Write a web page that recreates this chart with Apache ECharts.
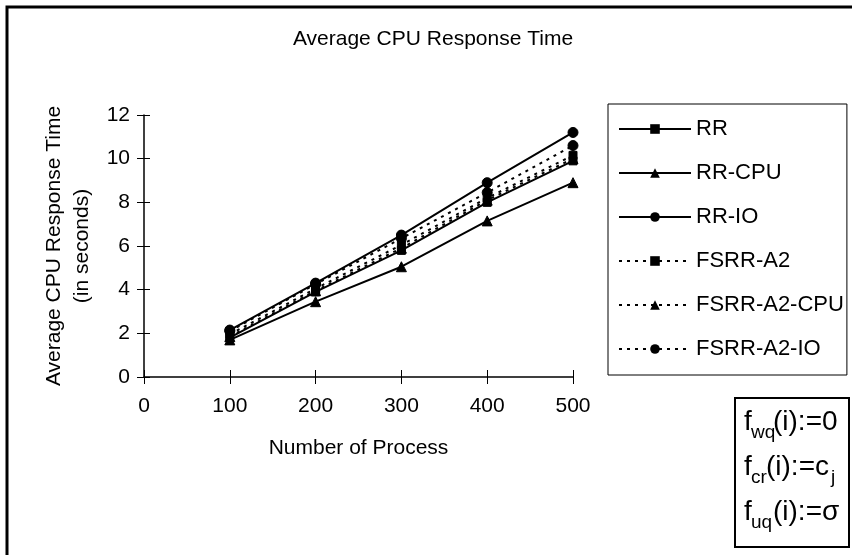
<!DOCTYPE html>
<html>
<head>
<meta charset="utf-8">
<script src="https://cdn.jsdelivr.net/npm/echarts@6/dist/echarts.min.js"></script>
<style>
  html, body { margin: 0; padding: 0; background: #fff; }
  #chart { width: 852px; height: 555px; }
</style>
</head>
<body>
<div id="chart"></div>
<script>
// Number of processes on the x axis
const processes = [100, 200, 300, 400, 500];

// Average CPU response time (seconds) per scheduler
const rr          = [1.8, 3.9, 5.8, 8.0, 9.9];
const rrCpu       = [1.7, 3.45, 5.05, 7.15, 8.9];
const rrIo        = [2.15, 4.3, 6.5, 8.9, 11.2];
const fsrrA2      = [1.95, 4.05, 6.05, 8.2, 10.15];
const fsrrA2Cpu   = [1.85, 3.95, 5.9, 8.1, 10.0];
const fsrrA2Io    = [2.1, 4.25, 6.35, 8.45, 10.6];

const yTicks = [0, 2, 4, 6, 8, 10, 12];
const xTicks = [0, 100, 200, 300, 400, 500];

const FONT = '"Liberation Sans", Arial, Helvetica, sans-serif';

function pairs(vals) {
  return processes.map((p, i) => [p, vals[i]]);
}

function makeSeries(name, vals, symbol, dashed) {
  return {
    name: name,
    type: 'line',
    data: pairs(vals),
    symbol: symbol,
    symbolSize: symbol === 'triangle' ? 10 : (symbol === 'rect' ? 8 : 10),
    showAllSymbol: true,
    xAxisIndex: 0,
    yAxisIndex: 0,
    lineStyle: {
      color: '#000',
      width: 2,
      type: dashed ? [3, 5] : 'solid'
    },
    itemStyle: { color: '#000', borderColor: '#000' },
    emphasis: { disabled: true },
    animation: false
  };
}

// one line of the parameter box: f, subscript, remainder (+ optional trailing subscript)
function formulaLine(top, sub, rest, subX, restX, tailSub, tailX) {
  const main = { fontFamily: FONT, fontSize: 28, fill: '#000' };
  const small = { fontFamily: FONT, fontSize: 19, fill: '#000' };
  const items = [
    { type: 'text', left: 744, top: top, style: Object.assign({ text: 'f' }, main) },
    { type: 'text', left: subX, top: top + 15, style: Object.assign({ text: sub }, small) },
    { type: 'text', left: restX, top: top, style: Object.assign({ text: rest }, main) }
  ];
  if (tailSub) {
    items.push({ type: 'text', left: tailX, top: top + 15, style: Object.assign({ text: tailSub }, small) });
  }
  return items;
}

const chart = echarts.init(document.getElementById('chart'), null, { renderer: 'canvas' });

chart.setOption({
  backgroundColor: '#fff',
  animation: false,
  title: {
    text: 'Average CPU Response Time',
    left: 428,
    top: 24,
    textAlign: 'center',
    textStyle: { fontFamily: FONT, fontSize: 21, fontWeight: 'normal', color: '#000' }
  },
  legend: {
    orient: 'vertical',
    left: 608,
    top: 104,
    padding: [14, 3, 15, 10],
    itemWidth: 72,
    itemHeight: 12,
    itemGap: 22,
    borderColor: '#000',
    borderWidth: 1,
    textStyle: { fontFamily: FONT, fontSize: 22, color: '#000' },
    data: ['RR', 'RR-CPU', 'RR-IO', 'FSRR-A2', 'FSRR-A2-CPU', 'FSRR-A2-IO']
  },
  grid: { left: 144, right: 279, top: 115, bottom: 178 },
  xAxis: [
    {
      type: 'value',
      min: xTicks[0],
      max: xTicks[xTicks.length - 1],
      interval: 100,
      name: 'Number of Process',
      nameLocation: 'middle',
      nameGap: 61,
      nameTextStyle: { fontFamily: FONT, fontSize: 21, color: '#000' },
      axisLine: { onZero: false, lineStyle: { color: '#000', width: 1.5 } },
      axisTick: { show: true, length: 7, lineStyle: { color: '#000', width: 1 } },
      axisLabel: { fontFamily: FONT, fontSize: 21, color: '#000', margin: 19 },
      splitLine: { show: false }
    },
    {
      type: 'value',
      position: 'bottom',
      min: xTicks[0],
      max: xTicks[xTicks.length - 1],
      interval: 100,
      axisLine: { show: false },
      axisTick: { show: true, inside: true, length: 7, lineStyle: { color: '#000', width: 1 } },
      axisLabel: { show: false },
      splitLine: { show: false }
    }
  ],
  yAxis: [
    {
      type: 'value',
      min: yTicks[0],
      max: yTicks[yTicks.length - 1],
      interval: 2,
      name: 'Average CPU Response Time\n(in seconds)',
      nameLocation: 'middle',
      nameGap: 47,
      nameRotate: 90,
      nameTextStyle: { fontFamily: FONT, fontSize: 21, color: '#000', lineHeight: 28 },
      axisLine: { onZero: false, lineStyle: { color: '#000', width: 1.5 } },
      axisTick: { show: true, length: 7, lineStyle: { color: '#000', width: 1 } },
      axisLabel: { fontFamily: FONT, fontSize: 21, color: '#000', margin: 14 },
      splitLine: { show: false }
    },
    {
      type: 'value',
      position: 'left',
      min: yTicks[0],
      max: yTicks[yTicks.length - 1],
      interval: 2,
      axisLine: { show: false },
      axisTick: { show: true, inside: true, length: 6, lineStyle: { color: '#000', width: 1 } },
      axisLabel: { show: false },
      splitLine: { show: false }
    }
  ],
  series: [
    makeSeries('RR', rr, 'rect', false),
    makeSeries('RR-CPU', rrCpu, 'triangle', false),
    makeSeries('RR-IO', rrIo, 'circle', false),
    makeSeries('FSRR-A2', fsrrA2, 'rect', true),
    makeSeries('FSRR-A2-CPU', fsrrA2Cpu, 'triangle', true),
    makeSeries('FSRR-A2-IO', fsrrA2Io, 'circle', true)
  ],
  graphic: [
    // outer frame
    {
      type: 'rect',
      shape: { x: 7, y: 7, width: 860, height: 570 },
      style: { fill: 'none', stroke: '#000', lineWidth: 3 },
      silent: true
    },
    // parameter box
    {
      type: 'rect',
      shape: { x: 735, y: 398, width: 114, height: 149 },
      style: { fill: '#fff', stroke: '#000', lineWidth: 2 },
      silent: true
    }
  ]
    .concat(formulaLine(408, 'wq', '(i):=0', 751, 773))
    .concat(formulaLine(453, 'cr', '(i):=c', 751, 766, 'j', 831))
    .concat(formulaLine(498, 'uq', '(i):=σ', 751, 773))
});
</script>
</body>
</html>
